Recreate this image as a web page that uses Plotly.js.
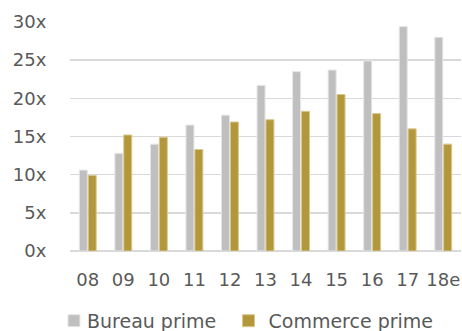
<!DOCTYPE html>
<html><head><meta charset="utf-8">
<script src="https://cdn.plot.ly/plotly-3.0.1.min.js"></script>
<style>html,body{margin:0;padding:0;background:#fff}#c{width:462px;height:331px}
.legendtext{transform:translateX(-7px)}</style>
</head><body><div id="c"></div>
<script>
const categories = ["08","09","10","11","12","13","14","15","16","17","18e"];
const bureauPrime = [10.6,12.8,14.0,16.5,17.8,21.7,23.5,23.7,24.9,29.4,28.0];
const commercePrime = [9.9,15.2,14.9,13.3,16.9,17.2,18.3,20.5,18.0,16.0,14.0];
const seriesNames = ["Bureau prime","Commerce prime"];
const yTicks = [0,5,10,15,20,25,30];

const font = {family:"DejaVu Sans", size:18, color:"#595959"};
const legendFont = {family:"DejaVu Sans", size:19, color:"#595959"};
const traces = [
  {type:"bar", name:seriesNames[0], x:categories, y:bureauPrime, legend:"legend",
   marker:{color:"#bfbfbf", line:{color:"#e6e6e6", width:1}}},
  {type:"bar", name:seriesNames[1], x:categories, y:commercePrime, legend:"legend2",
   marker:{color:"#b3973b", line:{color:"#d9c88f", width:1}}}
];
const legendBase = {orientation:"h", xanchor:"left", y:-0.305, yanchor:"middle",
  font:legendFont, bgcolor:"rgba(0,0,0,0)", itemwidth:30};
const layout = {
  width:462, height:331,
  margin:{l:70, r:1, t:22, b:80, autoexpand:false},
  paper_bgcolor:"#fff", plot_bgcolor:"#fff",
  barmode:"group", bargap:0.5, bargroupgap:0.1,
  font:font,
  showlegend:true,
  legend:Object.assign({}, legendBase, {x:-0.041}),
  legend2:Object.assign({}, legendBase, {x:0.4054}),
  xaxis:{type:"category", tickfont:font, showgrid:false, zeroline:false, showline:false,
         ticks:"outside", ticklen:12, tickcolor:"rgba(0,0,0,0)", automargin:false},
  yaxis:{range:[0,30], tickvals:yTicks, ticktext:yTicks.map(v=>v+"x"), tickfont:font,
         showgrid:true, gridcolor:"#d9d9d9", gridwidth:1.5, zeroline:true, zerolinecolor:"#d9d9d9",
         zerolinewidth:1.5, showline:false, ticks:"outside", ticklen:19, tickcolor:"rgba(0,0,0,0)",
         automargin:false}
};
Plotly.newPlot("c", traces, layout, {staticPlot:true, displayModeBar:false});
</script></body></html>
